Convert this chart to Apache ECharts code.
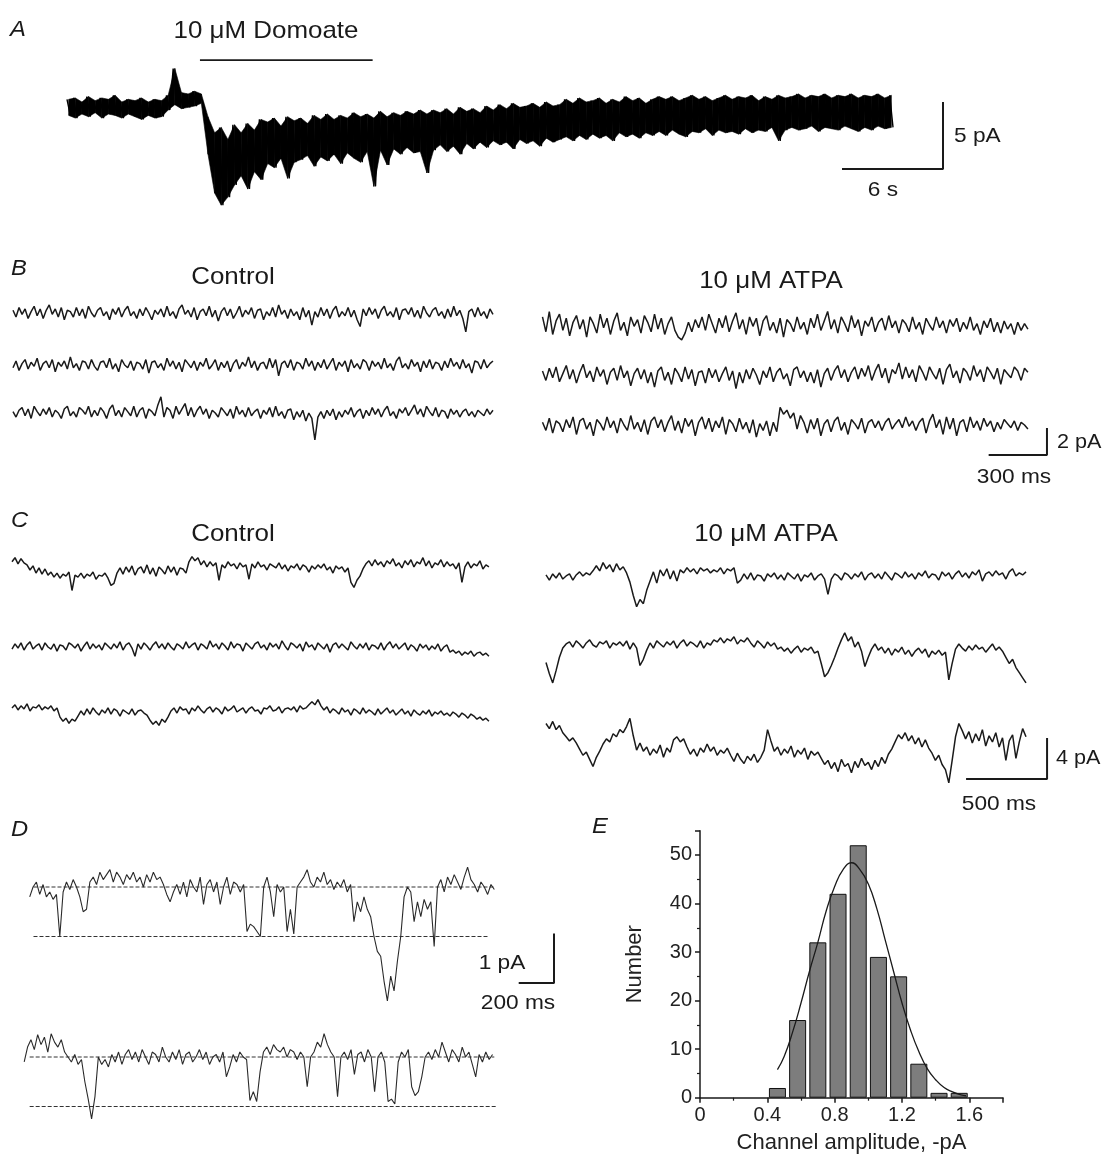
<!DOCTYPE html>
<html>
<head>
<meta charset="utf-8">
<script src="https://cdn.jsdelivr.net/npm/echarts@6/dist/echarts.min.js"></script>
<style>
  html, body { margin: 0; padding: 0; background: #fff; }
  #chart { width: 1105px; height: 1162px; }
</style>
</head>
<body>
<div id="chart"></div>
<script>
// ---- A: whole-cell current, domoate (pA, sampled over ~49 s)
const traceA = [
  0.5,-0.7,0.6,-0.9,0.3,-0.6,0.7,-0.8,0.4,-0.5,
  0.6,-0.9,0.5,-0.6,0.8,-0.7,0.3,-0.9,0.5,-0.6,
  0.4,-0.8,0.6,-1.0,0.3,-0.7,0.5,-0.9,0.4,-0.8,
  0.8,-0.3,2.8,0.1,1.0,-0.2,0.9,-0.1,1.1,0.0,
  0.9,0.2,-0.8,-3.6,-2.0,-6.5,-1.6,-7.4,-2.5,-6.8,
  -1.4,-5.9,-2.0,-5.2,-1.3,-6.2,-1.8,-4.9,-1.0,-5.5,
  -1.2,-4.3,-0.9,-4.6,-1.5,-3.9,-0.8,-5.4,-1.1,-4.2,
  -0.9,-4.0,-1.3,-3.7,-0.7,-4.5,-1.0,-3.8,-0.6,-4.1,
  -1.0,-3.6,-0.7,-4.3,-0.9,-3.5,-0.5,-3.9,-0.8,-4.2,
  -0.6,-3.4,-0.9,-6.0,-0.4,-3.3,-0.8,-4.4,-0.5,-3.2,
  -0.7,-3.6,-0.4,-3.1,-0.6,-3.5,-0.3,-3.4,-0.6,-5.0,
  -0.3,-3.3,-0.5,-2.9,-0.2,-3.4,-0.6,-3.0,-0.1,-3.6,
  -0.4,-2.8,-0.2,-3.2,-0.5,-2.7,0.0,-3.1,-0.3,-2.6,
  0.1,-2.9,-0.2,-2.7,0.2,-3.2,-0.1,-2.5,0.0,-2.8,
  0.2,-2.6,-0.1,-3.0,0.3,-2.4,0.0,-2.7,0.1,-2.5,
  0.5,-2.3,0.2,-2.6,0.6,-2.2,0.3,-2.5,0.4,-2.1,
  0.6,-2.4,0.2,-2.2,0.5,-2.6,0.3,-2.0,0.7,-2.3,
  0.4,-2.1,0.6,-2.4,0.2,-2.0,0.5,-2.2,0.7,-1.9,
  0.5,-2.2,0.7,-1.8,0.4,-2.1,0.6,-2.3,0.8,-1.9,
  0.5,-2.0,0.7,-1.7,0.4,-2.2,0.6,-1.8,0.8,-2.0,
  0.5,-1.9,0.7,-2.1,0.6,-1.7,0.8,-2.0,0.4,-1.8,
  0.7,-1.9,0.5,-1.6,0.8,-2.6,0.6,-1.8,0.7,-1.6,
  0.9,-1.8,0.6,-1.7,0.8,-1.5,0.7,-1.9,0.9,-1.6,
  0.6,-1.7,0.8,-1.8,0.7,-1.5,0.9,-1.7,0.6,-1.9,
  0.8,-1.6,0.7,-1.8,0.9,-1.5,0.6,-1.7,0.8,-1.6
];
const durA = 49.08;             // s
const domoateOn = [7.9, 18.16]; // s, application bar

// ---- B: single-channel recordings (pA), 3 sweeps each
const bControl1 = [
  0.2,-0.3,0.4,-0.1,0.3,-0.4,0.1,0.5,-0.2,0.3,
  -0.4,0.2,0.6,-0.1,0.3,-0.3,0.4,-0.5,0.2,0.1,
  -0.3,0.4,-0.2,0.3,-0.4,0.5,0.0,-0.3,0.2,0.4,
  -0.2,0.1,-0.5,0.3,-0.1,0.4,-0.3,0.2,0.5,-0.2,
  0.1,-0.4,0.3,-0.2,0.4,0.0,-0.5,0.2,-0.1,0.3,
  -0.3,0.5,-0.2,0.1,-0.4,0.3,0.6,-0.1,0.2,-0.3,
  0.4,-0.5,0.1,0.3,-0.2,0.5,-0.3,0.2,-0.6,0.1,
  0.4,-0.2,0.3,-0.4,0.0,0.5,-0.3,0.2,-0.1,0.4,
  -0.4,0.2,0.3,-0.5,0.1,-0.2,0.4,-0.3,0.6,-0.1,
  0.2,-0.4,0.3,-0.2,0.1,-0.5,0.4,-0.3,0.2,-0.9,
  0.1,-0.3,0.4,-0.2,0.3,-0.4,0.2,0.5,-0.3,0.1,
  -0.2,0.4,-0.3,0.2,-0.5,-1.0,0.3,-0.2,0.4,-0.1,
  0.3,-0.4,0.2,0.5,-0.2,0.1,-0.3,0.4,-0.5,0.2,
  0.3,-0.1,0.4,-0.3,0.2,-0.4,0.5,0.0,-0.3,0.2,
  0.4,-0.2,0.1,-0.4,0.3,-0.3,0.5,-0.2,0.2,-0.4,
  -1.4,0.1,0.3,-0.3,0.4,-0.2,0.1,-0.4,0.3,-0.1
];
const bControl2 = [
  -0.2,0.3,-0.4,0.1,0.4,-0.3,0.2,-0.1,0.5,-0.4,
  0.1,0.3,-0.2,0.4,-0.5,0.2,-0.1,0.3,-0.3,0.6,
  -0.2,0.1,-0.4,0.3,0.2,-0.3,0.4,-0.1,-0.4,0.2,
  0.3,-0.2,0.5,-0.3,0.1,-0.5,0.4,0.0,-0.2,0.3,
  -0.4,0.2,0.1,-0.3,0.4,-0.6,0.2,0.3,-0.2,0.1,
  -0.4,0.5,-0.1,0.3,-0.3,0.2,-0.5,0.4,0.1,-0.2,
  0.3,-0.4,0.2,-0.1,0.5,-0.3,0.0,0.4,-0.4,0.2,
  -0.2,0.3,-0.5,0.1,0.4,-0.3,0.2,-0.1,0.6,-0.2,
  0.3,-0.4,0.1,0.2,-0.3,0.5,-0.2,0.4,-0.8,0.1,
  0.3,-0.2,0.4,-0.4,0.2,0.1,-0.3,0.5,-0.1,0.3,
  -0.4,0.2,-0.2,0.4,-0.3,0.1,0.5,-0.4,0.2,-0.1,
  0.3,-0.5,0.4,-0.2,0.1,-0.3,0.4,0.2,-0.4,0.3,
  -0.1,0.2,-0.3,0.5,-0.2,0.1,-0.4,0.3,0.6,-0.2,
  0.1,-0.3,0.4,-0.1,0.2,-0.5,0.3,-0.2,0.4,-0.3,
  0.2,0.1,-0.4,0.3,-0.2,0.5,-0.1,0.2,-0.3,0.4,
  -0.2,0.1,-0.6,0.3,0.2,-0.3,0.4,-0.2,0.1,0.3
];
const bControl3 = [
  0.1,-0.3,0.2,0.4,-0.2,0.3,-0.4,0.5,0.1,-0.2,
  0.3,-0.1,0.4,-0.3,0.2,0.0,-0.4,0.3,0.5,-0.2,
  0.1,-0.3,0.4,0.2,-0.1,0.5,-0.3,0.2,-0.2,0.4,
  0.1,-0.4,0.3,0.6,-0.2,0.2,-0.3,0.4,0.1,-0.2,
  0.5,-0.3,0.2,0.4,-0.4,0.3,0.1,-0.2,0.6,1.2,
  -0.3,0.4,0.2,-0.4,0.5,-0.1,0.3,0.7,-0.2,0.4,
  -0.3,0.2,0.5,-0.1,0.3,-0.4,0.2,0.0,-0.3,0.4,
  0.1,-0.2,0.3,-0.4,0.5,-0.1,0.2,-0.3,0.4,-0.2,
  0.1,0.3,-0.4,0.2,-0.1,0.4,-0.3,0.5,-0.2,0.1,
  -0.4,0.2,0.3,-0.5,0.1,-0.3,0.2,-0.6,0.0,-0.4,
  -2.0,-0.3,0.1,-0.4,0.2,-0.2,0.3,-0.5,0.1,-0.3,
  0.2,-0.1,0.4,-0.3,0.1,0.3,-0.4,0.2,-0.2,0.4,
  -0.1,0.3,-0.3,0.2,0.5,-0.2,0.1,-0.4,0.3,0.0,
  0.4,-0.2,0.2,0.6,-0.1,0.3,-0.3,0.5,0.1,-0.2,
  0.4,-0.3,0.2,0.1,-0.4,0.3,-0.1,0.2,-0.3,0.1,
  0.3,-0.2,0.1,-0.3,0.2,0.0,-0.2,0.3,-0.1,0.2
];
const bAtpa1 = [
  0.6,-0.5,1.0,-0.7,0.3,0.8,-0.4,0.5,-0.8,0.2,
  0.7,-0.3,0.4,-0.9,0.6,0.1,-0.6,0.8,-0.2,0.5,
  -0.7,0.3,0.9,-0.4,0.2,-0.8,0.6,-0.1,0.4,-0.6,
  0.7,0.2,-0.5,0.8,-0.3,0.5,-0.7,0.1,0.6,-0.4,
  -0.9,-1.1,-0.6,0.2,-0.5,0.4,-0.2,0.6,-0.4,0.8,
  0.1,-0.6,0.5,-0.2,0.7,-0.5,0.3,0.9,-0.3,0.4,
  -0.7,0.6,-0.1,0.5,-0.8,0.3,0.7,-0.4,0.2,-0.6,
  0.5,-0.9,0.4,0.1,-0.5,0.6,-0.3,0.2,-0.7,0.5,
  -0.2,0.8,-0.4,0.3,1.0,-0.3,0.4,-0.6,0.6,0.1,
  -0.5,0.7,-0.2,0.4,-0.8,0.3,-0.1,0.6,-0.5,0.2,
  0.5,-0.4,0.7,-0.2,0.3,-0.6,0.4,0.1,-0.5,0.6,
  -0.3,0.2,-0.7,0.5,0.0,-0.4,0.6,-0.2,0.3,-0.6,
  0.4,-0.1,0.5,-0.5,0.2,-0.3,0.6,-0.4,0.1,-0.7,
  0.3,-0.2,0.5,-0.5,0.2,-0.6,0.3,-0.3,0.1,-0.7,
  0.2,-0.4,0.1,-0.3
];
const bAtpa2 = [
  0.3,-0.4,0.5,-0.2,0.6,-0.5,0.1,0.7,-0.3,0.4,
  -0.6,0.2,0.8,-0.2,0.3,-0.5,0.6,-0.1,0.4,-0.7,
  0.2,0.5,-0.4,0.7,-0.2,0.3,-0.8,0.1,0.5,-0.3,
  0.4,-0.6,0.2,-0.9,0.3,0.6,-0.4,0.2,-0.7,0.5,
  0.1,-0.5,0.6,-0.3,0.4,-0.8,0.2,0.3,-0.6,0.5,
  -0.2,0.4,-0.5,0.1,0.6,-0.4,0.3,-1.0,0.2,-0.6,
  0.4,-0.3,0.5,0.0,-0.7,0.3,-0.2,0.6,-0.5,0.2,
  0.5,-0.3,0.1,-0.8,0.4,0.6,-0.2,0.3,-0.5,0.2,
  -0.6,0.4,-0.9,0.1,0.5,-0.4,0.3,0.7,-0.2,0.4,
  -0.5,0.2,0.6,-0.3,0.5,-0.1,0.7,-0.4,0.3,0.8,
  -0.2,0.5,-0.6,0.4,0.1,0.9,-0.3,0.6,-0.2,0.4,
  -0.5,0.7,0.2,-0.4,0.6,0.1,-0.3,0.5,-0.7,0.4,
  0.8,-0.2,0.3,-0.6,0.5,0.2,-0.4,0.7,-0.1,0.4,
  -0.5,0.6,0.2,-0.3,0.5,-0.7,0.4,0.1,-0.2,0.6,
  0.3,-0.4,0.5,0.2
];
const bAtpa3 = [
  0.2,-0.4,0.5,-0.6,0.3,0.1,-0.5,0.4,-0.2,0.6,
  -0.7,0.3,0.5,-0.3,0.2,-0.8,0.4,0.1,-0.4,0.6,
  -0.2,0.3,-0.6,0.5,0.0,-0.4,0.7,-0.3,0.2,-0.5,
  0.4,-0.7,0.3,0.6,-0.2,0.4,-0.5,0.2,0.7,-0.4,
  0.3,-0.6,0.5,-0.1,0.4,-0.8,0.2,0.6,-0.3,0.5,
  -0.5,0.3,-0.2,0.6,-0.7,0.4,0.1,-0.5,0.5,-0.3,
  0.2,-0.6,0.4,-0.9,0.1,-0.4,0.3,-0.8,0.2,-0.5,
  1.3,0.8,1.1,0.5,0.9,-0.3,0.7,0.2,-0.6,0.4,
  -0.3,0.5,-0.8,0.1,0.4,-0.5,0.3,0.6,-0.4,0.2,
  -0.7,0.4,0.1,-0.3,0.5,-0.6,0.2,0.4,-0.2,0.3,
  -0.4,0.2,0.5,-0.3,0.1,0.4,-0.2,0.6,-0.1,0.3,
  -0.4,0.2,0.5,-0.6,0.3,0.8,-0.2,0.4,-0.7,0.6,
  -0.3,0.5,-0.8,0.2,0.4,-0.5,0.6,-0.2,0.3,-0.4,
  0.5,-0.1,0.3,-0.5,0.2,-0.3,0.4,0.1,-0.2,0.3,
  -0.4,0.2,0.0,-0.3
];
const durBControl = 2469, durBAtpa = 2497; // ms

// ---- C: single-channel recordings (pA), 3 sweeps each
const cControl1 = [
  0.8,1.2,0.6,1.1,0.7,
  0.5,0.0,0.4,-0.3,0.2,-0.4,0.1,-0.5,
  -0.2,-0.7,-0.3,-0.8,-0.4,-0.6,-0.2,-2.0,-0.5,-0.7,-0.3,-0.8,-0.4,-0.6,-0.2,-0.9,-0.5,-0.6,-0.3,-0.8,
  -1.5,-1.3,
  -0.3,0.2,-0.4,0.3,-0.2,0.4,-0.5,0.1,0.3,-0.3,0.5,-0.4,0.2,-0.6,0.3,0.0,-0.4,0.4,-0.2,0.3,-0.5,0.2,0.1,-0.3,
  0.8,1.3,0.9,1.2,
  0.5,0.9,0.3,0.8,0.4,0.7,-1.0,0.5,0.2,0.8,
  0.4,0.6,0.1,0.7,0.3,0.5,-0.9,0.6,0.2,0.8,
  0.3,0.5,0.0,0.6,0.4,0.2,0.7,0.1,0.5,-0.1,
  0.4,0.2,0.6,0.0,0.5,0.3,-0.2,0.4,0.1,0.5,
  0.2,0.6,0.0,0.3,-0.3,0.4,0.1,0.3,-0.2,0.2,
  -1.2,-1.7,-1.0,-0.6,0.1,
  0.6,0.9,0.4,1.0,0.5,0.8,0.3,0.9,0.6,1.1,
  0.4,0.7,0.2,0.9,0.5,1.0,0.3,0.8,0.6,1.2,
  0.4,0.9,0.2,0.7,0.5,1.0,0.3,0.8,0.4,0.6,
  0.1,0.7,-1.2,0.3,0.8,0.2,0.6,0.4,0.9,0.1,
  0.5,0.3
];
const cControl2 = [
  -0.2,0.3,-0.1,0.4,-0.3,0.2,0.5,-0.2,0.1,0.3,
  -0.3,0.4,0.0,-0.2,0.3,-0.4,0.2,0.1,-0.3,0.4,
  0.2,-0.1,0.3,-0.4,0.1,0.5,-0.2,0.3,-0.1,0.2,
  -0.3,0.4,0.1,-0.2,0.3,-0.1,0.5,-0.3,0.2,0.4,
  -0.1,-0.9,0.3,-0.2,0.4,0.1,-0.3,0.2,0.5,-0.1,
  0.3,-0.2,0.4,0.0,-0.3,0.3,0.1,-0.2,0.5,-0.1,
  0.2,0.4,-0.3,0.3,0.1,-0.2,0.6,0.0,0.3,-0.2,
  0.4,0.1,-0.3,0.5,-0.1,0.3,0.2,-0.4,0.4,0.1,
  -0.2,0.3,0.5,-0.1,0.2,-0.3,0.4,0.0,0.3,-0.2,
  0.6,0.1,-0.3,0.4,0.2,-0.1,0.3,-0.4,0.5,0.0,
  0.2,-0.3,0.4,0.1,-0.2,0.3,-0.5,0.2,0.4,-0.1,
  0.3,0.0,-0.3,0.5,0.1,-0.2,0.3,-0.1,0.4,-0.3,
  0.2,0.1,-0.2,0.4,-0.3,0.2,0.5,-0.1,0.3,-0.2,
  0.1,0.4,-0.3,0.2,0.0,-0.4,0.3,-0.1,0.2,-0.3,
  0.1,-0.2,0.3,-0.4,0.0,0.2,-0.5,-0.3,-0.6,-0.4,
  -0.8,-0.5,-0.7,-0.4,-0.9,-0.6,-0.5,-0.8,-0.6,-0.9
];
const cControl3 = [
  0.4,0.7,0.2,0.6,0.3,0.8,0.1,0.5,0.4,0.7,0.2,0.5,0.3,0.6,0.1,0.4,
  -0.5,-0.9,-0.6,-1.1,-0.7,-0.9,-0.4,
  0.1,-0.3,0.3,-0.2,0.4,0.0,-0.3,0.2,-0.1,0.4,-0.2,0.3,0.1,-0.4,0.2,0.0,-0.2,0.3,-0.3,0.1,0.2,-0.1,-0.3,
  -0.8,-1.2,-0.9,-1.3,-0.7,-1.0,-0.5,
  0.1,0.4,-0.1,0.5,0.2,0.3,-0.2,0.4,0.1,0.6,
  0.2,-0.1,0.3,0.5,0.0,0.4,0.2,-0.2,0.5,0.1,
  0.3,0.6,0.0,0.2,0.4,-0.1,0.3,0.5,0.1,0.2,
  -0.2,0.4,0.3,0.6,0.1,0.2,0.5,-0.1,0.3,0.4,
  0.2,0.5,0.0,0.6,0.3,0.4,0.7,
  1.0,0.7,1.2,0.6,
  0.2,0.5,-0.1,0.3,0.1,-0.2,0.4,0.0,0.2,-0.3,
  0.3,0.1,-0.2,0.4,-0.1,0.2,0.0,-0.3,0.3,-0.2,
  0.1,0.4,-0.1,0.2,-0.3,0.0,0.3,-0.2,0.1,-0.4,
  0.2,-0.1,-0.3,0.1,-0.2,0.2,-0.4,0.0,-0.2,0.1,
  -0.3,-0.1,-0.4,0.0,-0.2,-0.5,-0.1,-0.3,-0.6,-0.2,
  -0.4,-0.7,-0.5,-0.8,-0.6,-0.9
];
const cAtpa1 = [
  0.2,-0.3,0.3,-0.1,0.4,-0.2,0.1,0.3,-0.3,0.2,0.5,0.1,0.4,0.2,0.6,
  1.1,0.6,1.4,0.8,1.2,0.5,1.3,0.7,1.0,0.4,
  -0.5,-1.8,-2.9,-2.2,-2.6,
  -1.3,-0.4,0.5,-0.6,0.7,0.1,0.8,-0.2,0.6,-0.4,
  0.7,0.4,0.9,0.5,0.8,0.3,0.9,0.6,0.8,0.4,0.7,0.5,0.9,0.3,0.8,0.6,0.9,
  -0.6,-0.3,
  0.3,-0.2,0.4,-0.3,0.2,0.1,-0.4,0.3,0.0,0.4,
  -0.2,0.2,-0.3,0.4,0.1,-0.2,0.3,-0.4,0.2,0.0,
  0.4,-0.3,0.1,0.3,-0.2,
  -1.7,
  -0.2,0.3,0.1,-0.3,0.4,0.2,-0.2,0.3,0.0,0.5,
  -0.3,0.2,0.4,-0.1,0.3,-0.2,0.5,0.1,-0.3,0.4,
  0.2,-0.1,0.5,0.0,0.3,-0.2,0.4,0.1,0.6,-0.1,
  0.3,0.2,-0.3,0.5,0.1,0.4,-0.2,0.3,0.6,0.0,
  0.4,-0.1,0.5,0.2,0.7,-0.4,0.3,0.5,0.1,0.6,
  0.2,0.4,-0.2,0.5,0.8,0.1,0.4,0.2,0.5
];
const cAtpa2 = [
  -1.7,-2.8,-3.7,-2.5,-1.2,-0.3,0.1,
  0.3,-0.2,0.4,0.1,-0.3,0.2,0.5,0.0,-0.2,0.3,0.1,0.4,-0.3,0.2,0.0,0.3,-0.1,0.4,-0.4,0.2,-0.3,
  -2.0,-1.4,-0.5,
  0.2,-0.3,0.4,0.1,-0.2,0.3,0.0,0.4,-0.3,0.2,
  0.5,-0.1,0.3,0.1,-0.2,0.4,-0.3,0.2,0.0,0.5,
  0.3,0.7,0.2,0.6,0.4,0.8,0.1,0.5,0.3,0.7,
  0.2,-0.2,0.4,0.1,-0.3,0.3,-0.1,0.2,-0.4,
  -0.2,-0.6,-0.3,-0.8,-0.4,-0.1,-0.7,-0.3,-0.5,-0.2,-0.8,-0.6,
  -1.8,-3.1,-2.7,-2.0,
  -1.2,-0.3,0.5,1.2,0.4,0.8,-0.2,0.3,-0.6,
  -2.1,-1.2,-0.4,
  0.1,-0.5,-0.2,-0.8,-0.3,-1.0,-0.4,-0.7,-0.2,-0.9,
  -0.5,-1.1,-0.6,-0.3,-0.8,-0.4,-1.2,-0.6,-0.9,-0.5,
  -1.0,-0.7,
  -3.4,-1.8,
  -0.4,0.1,-0.3,-0.6,-0.1,-0.5,0.0,-0.4,-0.2,-0.7,-0.3,0.1,-0.5,-0.2,-0.6,
  -1.2,-1.8,-1.4,-2.2,-2.7,-3.2,-3.7
];
const cAtpa3 = [
  2.1,1.6,2.3,1.5,1.9,1.2,
  0.8,0.4,0.7,0.2,
  -0.4,-1.0,-0.7,-1.4,-2.1,-1.2,-0.6,
  0.1,0.6,0.3,1.1,0.8,1.5,1.2,1.8,
  2.6,
  0.9,-0.5,
  0.2,-0.6,-0.2,-1.0,-0.4,-0.8,0.0,-1.2,-0.3,-0.7,
  0.5,0.8,0.3,0.6,-0.2,-0.9,-0.4,-1.1,-0.3,-0.7,
  0.1,-0.6,-0.2,-1.0,-0.5,-0.8,-0.3,
  -1.0,-1.6,-0.8,-1.4,-1.8,-1.1,-1.5,-0.9,-1.7,-1.2,-0.5,
  1.5,
  0.4,-0.6,-0.2,-1.0,-0.4,-0.8,-0.1,-1.2,-0.5,-0.9,-0.3,-1.4,-0.6,-1.0,-0.7,
  -1.3,-1.9,-1.5,-2.3,-1.7,-2.6,-1.4,-2.1,-1.8,-2.7,
  -1.6,-2.2,-1.3,-2.0,-1.7,-2.4,-1.5,-2.1,-1.2,-1.8,
  -0.9,-0.4,
  0.3,1.0,0.6,1.2,0.4,0.9,0.1,0.7,-0.2,0.5,-0.3,
  -0.8,-1.5,-1.0,-1.9,-2.4,
  -3.7,-1.5,
  0.8,2.1,1.4,
  0.6,1.3,0.2,1.1,0.4,1.5,-0.1,0.9,0.3,1.2,
  -0.2,0.7,-1.5,0.4,1.0,-1.3,0.3,1.6,0.8
];
const durCControl = 2944, durCAtpa = 2963; // ms

// ---- D: expanded openings (pA), closed = 0, open = -1
const dSweep1 = [
  -0.2,0.0,0.1,-0.15,0.05,-0.2,-0.1,-0.25,-0.15,
  -1.0,
  -0.1,0.1,-0.05,0.15,0.0,
  -0.2,-0.5,-0.45,
  0.1,0.2,0.05,0.3,0.15,0.25,0.35,0.1,0.3,0.2,0.05,0.25,0.15,0.3,0.1,0.2,0.0,0.25,0.1,0.3,0.15,0.2,0.05,
  -0.15,-0.3,-0.1,
  0.05,-0.15,0.1,-0.2,0.15,0.0,-0.1,0.2,-0.35,0.05,0.15,-0.1,0.1,-0.35,0.0,0.2,-0.15,0.1,0.05,-0.1,0.05,
  -0.9,-0.75,-0.8,-0.9,-1.0,
  0.0,0.2,-0.1,
  -0.6,
  0.05,-0.1,0.0,
  -0.9,-0.45,-0.95,
  0.0,0.1,0.2,0.35,0.1,0.0,0.2,0.1,0.3,0.05,0.15,-0.05,0.1,0.0,0.15,-0.1,0.05,
  -0.7,-0.3,-0.5,-0.2,-0.45,-0.6,
  -1.0,-1.3,-1.4,
  -1.9,-2.3,-1.8,-2.1,
  -1.5,-1.0,
  -0.2,0.0,-0.1,
  -0.7,-0.3,-0.6,-0.25,-0.45,-0.3,
  -1.2,
  0.0,0.15,-0.1,0.2,0.05,0.25,0.1,-0.05,0.2,0.4,0.15,0.05,-0.1,0.1,0.0,-0.15,0.05,-0.05
];
const dSweep2 = [
  -0.1,0.2,0.35,0.15,0.45,0.25,0.4,0.1,0.47,0.3,0.2,0.35,0.1,
  0.0,-0.1,0.05,-0.15,-0.05,
  -0.5,-0.85,-1.25,-0.8,
  0.0,-0.15,-0.05,-0.2,0.05,-0.1,0.1,-0.15,0.05,0.15,
  -0.05,0.1,-0.1,0.15,0.0,-0.15,0.1,0.05,-0.1,0.2,
  0.0,-0.1,0.1,-0.05,0.15,-0.15,0.05,0.1,-0.1,0.0,
  0.15,-0.05,0.1,-0.15,0.0,0.05,-0.1,0.1,
  -0.4,-0.2,
  0.05,-0.1,0.1,0.0,-0.05,
  -0.88,-0.7,-0.9,-0.3,
  0.1,0.2,0.05,0.25,0.15,0.1,0.2,0.0,0.15,0.1,-0.05,0.1,0.0,
  -0.6,
  0.0,0.1,0.3,0.2,0.47,0.25,0.1,0.0,
  -0.8,
  0.0,0.1,-0.05,0.15,-0.35,0.05,0.1,-0.1,0.15,0.0,
  -0.7,
  0.0,0.1,-0.1,
  -0.9,-0.85,-0.95,
  -0.1,0.1,0.0,0.15,
  -0.6,-0.78,-0.7,-0.4,
  0.0,0.1,-0.05,0.15,0.0,0.3,0.1,-0.1,0.15,0.05,-0.1,0.2,0.0,0.1,-0.15,-0.4,0.05,-0.1,0.1,-0.05,0.05
];
const durD1 = 2631, durD2 = 2652; // ms
const dLevels = [0, -1];          // closed, open (pA)

// ---- E: amplitude histogram
const binCenters = [0.46, 0.58, 0.70, 0.82, 0.94, 1.06, 1.18, 1.30, 1.42, 1.54];
const binCounts  = [2, 16, 32, 42, 52, 29, 25, 7, 1, 1];
const fitX = [0.46,0.50,0.55,0.60,0.65,0.70,0.75,0.80,0.85,0.90,0.95,1.00,1.05,1.10,1.15,1.20,1.25,1.30,1.35,1.40,1.45,1.50,1.55,1.58];
const fitY = [5.8,8.5,13.5,19.5,26,32,38.5,43.5,47,48.4,47,44,39,32.5,26,19.5,14,9.5,6,3.7,2.1,1.2,0.6,0.4];

// scale bar lengths [x, y]
const scaleA = [6, 5];     // s, pA
const scaleB = [300, 2];   // ms, pA
const scaleC = [500, 4];   // ms, pA
const scaleD = [200, 1];   // ms, pA

// ---------------------------------------------------------------
const FONT = '"Liberation Sans", Arial, sans-serif';
const INK = '#1a1a1a';
const grids = [], xAxes = [], yAxes = [], series = [];

function addPanel(left, yZero, pxX, pxY, xMax, yMin, yMax) {
  const k = grids.length;
  grids.push({ left: left, top: yZero - yMax * pxY, width: xMax * pxX,
    height: (yMax - yMin) * pxY, outerBoundsMode: 'none' });
  xAxes.push({ gridIndex: k, type: 'value', min: 0, max: xMax, show: false });
  yAxes.push({ gridIndex: k, type: 'value', min: yMin, max: yMax, show: false });
  return k;
}
function addTrace(k, values, dur, color, width) {
  const dt = dur / (values.length - 1);
  series.push({ type: 'line', xAxisIndex: k, yAxisIndex: k, symbol: 'none',
    data: values.map((v, i) => [i * dt, v]),
    lineStyle: { color: color, width: width }, animation: false, silent: true });
}
// filled noise band: each pair of samples gives the low/high of the envelope
function addBand(k, values, dur, color) {
  const dt = dur / (values.length - 1);
  const env = [];
  for (let i = 0; i + 1 < values.length; i += 2) {
    env.push([(i + 0.5) * dt, Math.min(values[i], values[i + 1]), Math.max(values[i], values[i + 1])]);
  }
  series.push({
    type: 'custom', xAxisIndex: k, yAxisIndex: k, data: env, silent: true, animation: false,
    encode: { x: 0, y: [1, 2] },
    renderItem: function (params, api) {
      const i = params.dataIndex;
      if (i >= env.length - 1) return;
      const a = env[i], b = env[i + 1];
      return {
        type: 'polygon',
        shape: { points: [api.coord([a[0], a[1]]), api.coord([a[0], a[2]]),
                          api.coord([b[0], b[2]]), api.coord([b[0], b[1]])] },
        style: { fill: color, stroke: color, lineWidth: 0.6 }
      };
    }
  });
}
function addPath(k, pts, style) {
  series.push({ type: 'line', xAxisIndex: k, yAxisIndex: k, symbol: 'none', data: pts,
    lineStyle: style, animation: false, silent: true });
}
function addScaleBar(k, cx, cy, len) {
  addPath(k, [[cx - len[0], cy], [cx, cy], [cx, cy + len[1]]], { color: INK, width: 2 });
}

// A
const kA = addPanel(67, 106, 16.83, 13.4, 56, -9, 4.5);
addBand(kA, traceA, durA, '#000');
addTrace(kA, traceA, durA, '#000', 1.4);
addPath(kA, [[domoateOn[0], 3.43], [domoateOn[1], 3.43]], { color: INK, width: 1.8 });
addScaleBar(kA, 52.05, -4.70, scaleA);

// B
[[bControl1, 313], [bControl2, 365], [bControl3, 413]].forEach(([d, y]) => {
  addTrace(addPanel(13, y, 0.1944, 13.5, 2600, -2.5, 2), d, durBControl, '#1a1a1a', 1.5);
});
let kB;
[[bAtpa1, 325], [bAtpa2, 375], [bAtpa3, 425]].forEach(([d, y]) => {
  kB = addPanel(542.5, y, 0.1944, 13.5, 2800, -3, 2);
  addTrace(kB, d, durBAtpa, '#1a1a1a', 1.5);
});
addScaleBar(kB, 2595, -2.22, scaleB);

// C
[[cControl1, 570], [cControl2, 647], [cControl3, 712]].forEach(([d, y]) => {
  addTrace(addPanel(12, y, 0.162, 10.25, 3000, -4, 3), d, durCControl, '#1a1a1a', 1.5);
});
let kC;
[[cAtpa1, 577], [cAtpa2, 645], [cAtpa3, 745]].forEach(([d, y]) => {
  kC = addPanel(546, y, 0.162, 10.25, 3100, -4.5, 3);
  addTrace(kC, d, durCAtpa, '#1a1a1a', 1.5);
});
addScaleBar(kC, 3093, -3.32, scaleC);

// D
const dash = { color: '#333', width: 1, type: [4, 2] };
const kD1 = addPanel(29.7, 887, 0.1766, 49.5, 3050, -2.6, 0.8);
addPath(kD1, [[21.5, dLevels[0]], [2631, dLevels[0]]], dash);
addPath(kD1, [[21.5, dLevels[1]], [2600, dLevels[1]]], dash);
addTrace(kD1, dSweep1, durD1, '#2a2a2a', 1.1);
addScaleBar(kD1, 2969, -1.94, scaleD);
const kD2 = addPanel(24.2, 1057, 0.1766, 49.5, 2800, -1.6, 0.8);
addPath(kD2, [[31, dLevels[0]], [2662, dLevels[0]]], dash);
addPath(kD2, [[31, dLevels[1]], [2673, dLevels[1]]], dash);
addTrace(kD2, dSweep2, durD2, '#2a2a2a', 1.1);

// E histogram
const kE = grids.length;
grids.push({ left: 700, top: 830.7, width: 303, height: 267, outerBoundsMode: 'none' });
function axisCommon() {
  return {
    axisLine: { lineStyle: { color: INK, width: 1.5 } },
    axisTick: { length: 5, lineStyle: { color: INK, width: 1.5 } },
    minorTick: { show: true, splitNumber: 2, length: 3, lineStyle: { color: INK, width: 1.2 } },
    splitLine: { show: false },
    axisLabel: { fontSize: 20, color: '#222', fontFamily: FONT, margin: 8, showMaxLabel: false },
    nameLocation: 'middle',
    nameTextStyle: { fontSize: 22, color: '#222', fontFamily: FONT }
  };
}
xAxes.push(Object.assign({ gridIndex: kE, type: 'value', min: 0, max: 1.8, interval: 0.4,
  name: 'Channel amplitude, -pA', nameGap: 34 }, axisCommon()));
yAxes.push(Object.assign({ gridIndex: kE, type: 'value', min: 0, max: 55, interval: 10,
  name: 'Number', nameGap: 54 }, axisCommon()));
series.push({ type: 'bar', xAxisIndex: kE, yAxisIndex: kE, barWidth: 17,
  data: binCenters.map((c, i) => [c, binCounts[i]]),
  itemStyle: { color: '#7d7d7d', borderColor: '#111', borderWidth: 1 }, animation: false });
series.push({ type: 'line', xAxisIndex: kE, yAxisIndex: kE, symbol: 'none', smooth: true,
  data: fitX.map((x, i) => [x, fitY[i]]),
  lineStyle: { color: INK, width: 1.3 }, z: 5, animation: false });

// labels
function txt(text, x, y, size, align, italic) {
  return { type: 'text', x: x, y: y, scaleX: 1.08, silent: true,
    style: { text: text, font: (italic ? 'italic ' : '') + size + 'px ' + FONT, fill: INK,
      align: align || 'center', verticalAlign: 'middle' } };
}
const graphics = [
  txt('A', 10, 30, 22, 'left', true),
  txt('10 μM Domoate', 266, 31, 24),
  txt('5 pA', 954, 136, 21, 'left'),
  txt('6 s', 883, 190, 21),
  txt('B', 11, 269, 22, 'left', true),
  txt('Control', 233, 277, 24),
  txt('10 μM ATPA', 771, 281, 24),
  txt('2 pA', 1057, 442, 20, 'left'),
  txt('300 ms', 1014, 477, 21),
  txt('C', 11, 521, 22, 'left', true),
  txt('Control', 233, 534, 24),
  txt('10 μM ATPA', 766, 534, 24),
  txt('4 pA', 1056, 758, 20, 'left'),
  txt('500 ms', 999, 804, 21),
  txt('D', 11, 830, 22, 'left', true),
  txt('1 pA', 502, 963, 21),
  txt('200 ms', 518, 1003, 21),
  txt('E', 592, 827, 22, 'left', true)
];

const chart = echarts.init(document.getElementById('chart'), null, { renderer: 'canvas' });
chart.setOption({
  backgroundColor: '#fff',
  animation: false,
  grid: grids,
  xAxis: xAxes,
  yAxis: yAxes,
  series: series,
  graphic: graphics
});
</script>
</body>
</html>
